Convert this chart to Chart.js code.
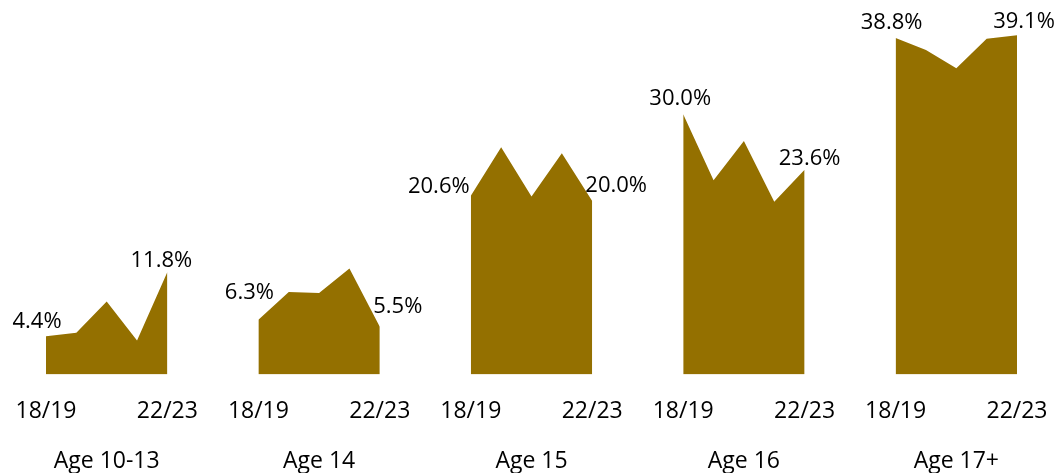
<!DOCTYPE html>
<html>
<head>
<meta charset="utf-8">
<script src="https://cdn.jsdelivr.net/npm/chart.js@4/dist/chart.umd.min.js"></script>
<style>
  html, body { margin: 0; padding: 0; background: #ffffff; }
  #wrap { width: 1061px; height: 473px; position: relative; }
</style>
</head>
<body>
<div id="wrap"><canvas id="c" width="1061" height="473"></canvas></div>
<script>
// School years shown in every age panel
const years = ['18/19', '19/20', '20/21', '21/22', '22/23'];

// Age groups, one small area panel each
const ageGroups = ['Age 10-13', 'Age 14', 'Age 15', 'Age 16', 'Age 17+'];

// Percentage per school year for each age group
const age10to13 = [4.4, 4.8, 8.4, 3.9, 11.8];
const age14     = [6.3, 9.5, 9.4, 12.2, 5.5];
const age15     = [20.6, 26.2, 20.5, 25.5, 20.0];
const age16     = [30.0, 22.4, 26.9, 19.9, 23.6];
const age17plus = [38.8, 37.4, 35.3, 38.7, 39.1];

const seriesByGroup = [age10to13, age14, age15, age16, age17plus];

// Year labels that appear under each panel
const shownTicks = ['18/19', '22/23'];

// Layout: empty slots between panels on the shared category axis
const GAP_SLOTS = 2;
const FILL = '#947000';
const FONT = "'Open Sans', sans-serif";
const TICK_SIZE = 23;
const TICK_PAD = 23;

// Where the first / last value labels sit relative to their point (px)
const labelOffsets = [
  [[-9, -15], [-6, -11]],
  [[-9, -27], [18, -20]],
  [[-32, -9], [24, -15]],
  [[-3, -16], [5, -11]],
  [[-4, -15], [7, -14]]
];

// Build the shared category axis: years per group, blanks between groups
const categories = [];
const groupStart = [];
ageGroups.forEach((g, gi) => {
  groupStart.push(categories.length);
  years.forEach(y => categories.push(y));
  if (gi < ageGroups.length - 1) {
    for (let k = 0; k < GAP_SLOTS; k++) categories.push('');
  }
});

const datasets = seriesByGroup.map((vals, gi) => {
  const data = categories.map(() => null);
  vals.forEach((v, i) => { data[groupStart[gi] + i] = v; });
  return {
    label: ageGroups[gi],
    data,
    fill: 'origin',
    backgroundColor: FILL,
    borderColor: FILL,
    borderWidth: 0,
    pointRadius: 0,
    pointHoverRadius: 0,
    tension: 0,
    spanGaps: false
  };
});

// Value labels on first and last year, plus age group captions
const annotate = {
  id: 'annotate',
  afterDatasetsDraw(chart) {
    const { ctx, scales: { x, y } } = chart;
    ctx.save();
    ctx.fillStyle = '#000000';
    ctx.textAlign = 'center';
    ctx.textBaseline = 'middle';
    ctx.font = '22px ' + FONT;
    seriesByGroup.forEach((vals, gi) => {
      [0, vals.length - 1].forEach((i, k) => {
        const px = x.getPixelForValue(groupStart[gi] + i);
        const py = y.getPixelForValue(vals[i]);
        const [dx, dy] = labelOffsets[gi][k];
        ctx.fillText(vals[i].toFixed(1) + '%', px + dx, py + dy);
      });
    });
    ctx.font = TICK_SIZE + 'px ' + FONT;
    ageGroups.forEach((g, gi) => {
      const a = x.getPixelForValue(groupStart[gi]);
      const b = x.getPixelForValue(groupStart[gi] + years.length - 1);
      ctx.fillText(g, (a + b) / 2, 461);
    });
    ctx.restore();
  }
};

new Chart(document.getElementById('c'), {
  type: 'line',
  data: { labels: categories, datasets },
  options: {
    responsive: false,
    animation: false,
    events: [],
    layout: { autoPadding: false, padding: { left: 46, right: 44, top: 1.5, bottom: 48 } },
    plugins: {
      legend: { display: false },
      tooltip: { enabled: false }
    },
    scales: {
      x: {
        offset: false,
        grid: { display: false, drawTicks: false },
        border: { display: false },
        afterFit(scale) {
          // fixed axis band; the outer layout padding already leaves room for the end labels
          scale.height = TICK_PAD + TICK_SIZE * 1.2;
          scale.paddingLeft = 0;
          scale.paddingRight = 0;
        },
        ticks: {
          autoSkip: false,
          maxRotation: 0,
          minRotation: 0,
          padding: TICK_PAD,
          color: '#000000',
          font: { family: FONT, size: TICK_SIZE },
          callback(value) {
            const lab = categories[value];
            return shownTicks.includes(lab) ? lab : '';
          }
        }
      },
      y: {
        display: false,
        min: 0,
        max: 43
      }
    }
  },
  plugins: [annotate]
});
</script>
</body>
</html>
